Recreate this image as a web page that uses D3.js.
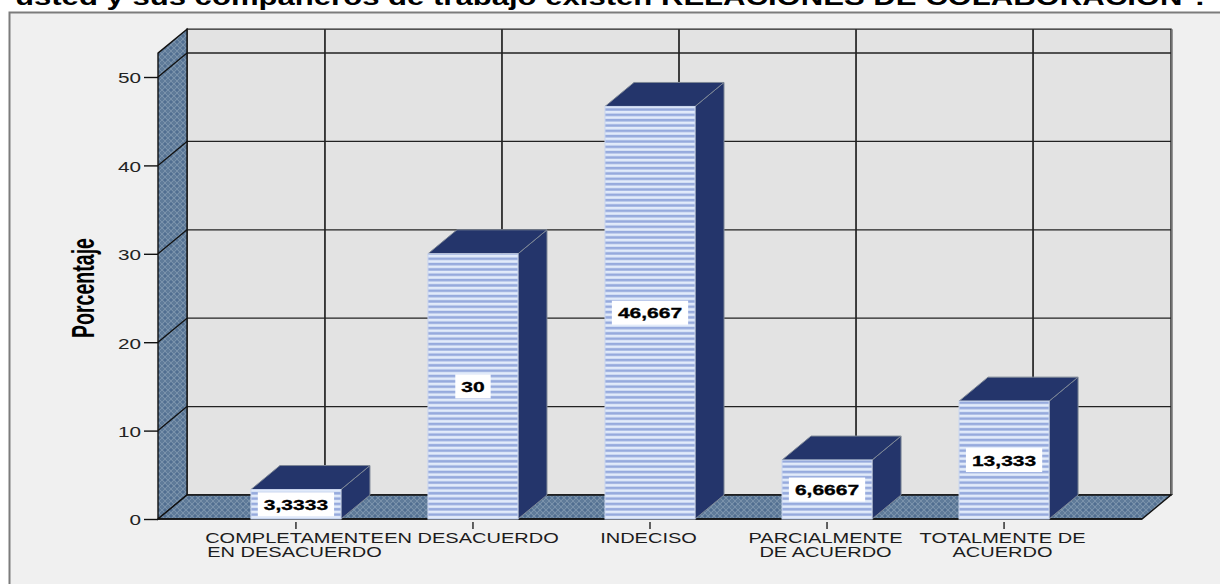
<!DOCTYPE html>
<html>
<head>
<meta charset="utf-8">
<script src="https://cdnjs.cloudflare.com/ajax/libs/d3/7.8.5/d3.min.js"></script>
<style>
  html, body { margin: 0; padding: 0; background: #fff; }
  svg { display: block; }
  text { font-family: "Liberation Sans", Arial, sans-serif; }
</style>
</head>
<body>
<svg id="chart" width="1220" height="584"></svg>
<script>
// Survey responses, percentage per answer
const categories = ["COMPLETAMENTE EN DESACUERDO", "EN DESACUERDO", "INDECISO", "PARCIALMENTE DE ACUERDO", "TOTALMENTE DE ACUERDO"];
const categoryLines = [["COMPLETAMENTE", "EN DESACUERDO"], ["EN DESACUERDO"], ["INDECISO"], ["PARCIALMENTE", "DE ACUERDO"], ["TOTALMENTE DE", "ACUERDO"]];
const percentages = [3.3333, 30, 46.667, 6.6667, 13.333];
const valueLabels = ["3,3333", "30", "46,667", "6,6667", "13,333"];
const yTicks = [0, 10, 20, 30, 40, 50];
const wallTopValue = 52.7;
const titleText = "usted y sus compañeros de trabajo existen RELACIONES DE COLABORACIÓN ?";
const yAxisTitle = "Porcentaje";

// Oblique projection of the box: back plane is shifted by this offset
const depthX = 29, depthY = -24;
const tickStretch = 1.48;
const categoryStretch = 1.43;

const svg = d3.select("#chart");
const x = d3.scaleBand().domain(categories).range([158, 1142]).paddingInner(0.4915).paddingOuter(0.525);
const y = d3.scaleLinear().domain([0, 50]).range([519, 77]);

const defs = svg.append("defs");

// Woven texture on the side wall and the floor
const weave = defs.append("pattern").attr("id", "weave").attr("patternUnits", "userSpaceOnUse")
  .attr("width", 6).attr("height", 6);
weave.append("rect").attr("width", 6).attr("height", 6).attr("fill", "#5f7b99");
weave.append("path").attr("d", "M0 0L3 3L0 6M6 0L3 3L6 6").attr("fill", "none").attr("stroke", "#7a92ab").attr("stroke-width", 1);
weave.append("circle").attr("cx", 3).attr("cy", 0).attr("r", 1).attr("fill", "#4c6a8e");
weave.append("circle").attr("cx", 3).attr("cy", 6).attr("r", 1).attr("fill", "#4c6a8e");

// Horizontal stripes on the bar fronts
const stripes = defs.append("pattern").attr("id", "stripes").attr("patternUnits", "userSpaceOnUse")
  .attr("width", 6).attr("height", 5.33);
stripes.append("rect").attr("width", 6).attr("height", 5.33).attr("fill", "#e2ebfa");
stripes.append("rect").attr("y", 1.6).attr("width", 6).attr("height", 2.6).attr("fill", "#96aadd");

// Title, cut by the top edge of the page
svg.append("text").attr("x", 15).attr("y", 5)
  .attr("font-size", 24).attr("font-weight", "bold").attr("fill", "#000")
  .attr("textLength", 1195).attr("lengthAdjust", "spacingAndGlyphs")
  .text(titleText);

// Chart panel, open towards the right and bottom edges of the page
svg.append("rect").attr("x", 9.5).attr("y", 12.5).attr("width", 1230).attr("height", 600)
  .attr("fill", "#f0f0f0").attr("stroke", "#7c7c7c").attr("stroke-width", 2);

const x0 = x.range()[0], x1 = x.range()[1];
const yBase = y(0), yTop = y(wallTopValue);
const poly = pts => "M" + pts.map(p => p.join(",")).join("L") + "Z";

// Back wall
svg.append("path").attr("d", poly([[x0 + depthX, yTop + depthY], [x1 + depthX, yTop + depthY], [x1 + depthX, yBase + depthY], [x0 + depthX, yBase + depthY]]))
  .attr("fill", "#e3e3e3");

// Back wall gridlines, vertical
svg.append("g").selectAll("line").data(categories).join("line")
  .attr("x1", d => x(d) + x.bandwidth() / 2 + depthX).attr("x2", d => x(d) + x.bandwidth() / 2 + depthX)
  .attr("y1", yTop + depthY).attr("y2", yBase + depthY)
  .attr("stroke", "#222").attr("stroke-width", 1.7);

// Back wall gridlines, horizontal
svg.append("g").selectAll("line").data(yTicks.filter(t => t > 0)).join("line")
  .attr("x1", x0 + depthX).attr("x2", x1 + depthX)
  .attr("y1", d => y(d) + depthY).attr("y2", d => y(d) + depthY)
  .attr("stroke", "#222").attr("stroke-width", 1.3);

// Back wall outline
svg.append("path").attr("d", poly([[x0 + depthX, yTop + depthY], [x1 + depthX, yTop + depthY], [x1 + depthX, yBase + depthY], [x0 + depthX, yBase + depthY]]))
  .attr("fill", "none").attr("stroke", "#222").attr("stroke-width", 1.4);
svg.append("line").attr("x1", x1 + depthX + 1).attr("x2", x1 + depthX + 1).attr("y1", yTop + depthY).attr("y2", yBase + depthY)
  .attr("stroke", "#777").attr("stroke-width", 1.5);

// Side wall and floor
svg.append("path").attr("d", poly([[x0, yTop], [x0 + depthX, yTop + depthY], [x0 + depthX, yBase + depthY], [x0, yBase]]))
  .attr("fill", "url(#weave)").attr("stroke", "#111").attr("stroke-width", 1.4);
svg.append("path").attr("d", poly([[x0, yBase], [x0 + depthX, yBase + depthY], [x1 + depthX, yBase + depthY], [x1, yBase]]))
  .attr("fill", "url(#weave)").attr("stroke", "#111").attr("stroke-width", 1.4);

// Gridlines crossing the side wall
svg.append("g").selectAll("line").data(yTicks.filter(t => t > 0)).join("line")
  .attr("x1", x0).attr("x2", x0 + depthX)
  .attr("y1", d => y(d)).attr("y2", d => y(d) + depthY)
  .attr("stroke", "#111").attr("stroke-width", 1.3);

// Value axis
const yAxis = svg.append("g").attr("transform", `translate(${x0},0)`)
  .call(d3.axisLeft(y).tickValues(yTicks).tickSize(14).tickPadding(3));
yAxis.select(".domain").remove();
yAxis.selectAll(".tick line").attr("stroke", "#111").attr("stroke-width", 1.4);
yAxis.selectAll(".tick text")
  .attr("font-size", 14).attr("fill", "#222").attr("font-family", "Liberation Sans")
  .attr("transform", function () {
    const tx = -17;
    return `translate(${tx},1.5) scale(${tickStretch},1) translate(${-tx},0)`;
  });

// Category axis
const xAxis = svg.append("g").attr("transform", `translate(0,${yBase})`)
  .call(d3.axisBottom(x).tickSize(0).tickFormat(""));
xAxis.select(".domain").attr("d", `M${x0},0H${x1}`).attr("stroke", "#111").attr("stroke-width", 1.6);
xAxis.selectAll(".tick line").attr("y1", 3).attr("y2", 10).attr("stroke", "#222").attr("stroke-width", 1.4);

// Category labels, one or two lines
const catLabels = svg.append("g").selectAll("g").data(categories).join("g")
  .attr("transform", d => `translate(${x(d) + x.bandwidth() / 2 - 1.5},0) scale(${categoryStretch},1)`);
catLabels.selectAll("text").data((d, i) => categoryLines[i]).join("text")
  .attr("y", (d, i) => 543 + i * 14.5)
  .attr("text-anchor", "middle").attr("font-size", 14).attr("fill", "#1c1c1c")
  .text(d => d);

// Value axis title
svg.append("g").attr("transform", "translate(94,288) scale(1.6,1) rotate(-90)")
  .append("text").attr("text-anchor", "middle")
  .attr("font-size", 20).attr("font-weight", "bold").attr("fill", "#000")
  .attr("textLength", 100).attr("lengthAdjust", "spacingAndGlyphs")
  .text(yAxisTitle);

// Bars: side, top, front, value label
const bars = svg.append("g").selectAll("g").data(categories).join("g");
const barGeom = (d, i) => ({ l: x(d), r: x(d) + x.bandwidth(), t: y(percentages[i]), b: yBase });

bars.append("path")
  .attr("d", (d, i) => { const g = barGeom(d, i); return poly([[g.r, g.t], [g.r + depthX, g.t + depthY], [g.r + depthX, g.b + depthY], [g.r, g.b]]); })
  .attr("fill", "#24356b").attr("stroke", "#7d8796").attr("stroke-width", 1);
bars.append("path")
  .attr("d", (d, i) => { const g = barGeom(d, i); return poly([[g.l, g.t], [g.l + depthX, g.t + depthY], [g.r + depthX, g.t + depthY], [g.r, g.t]]); })
  .attr("fill", "#24356b").attr("stroke", "#7d8796").attr("stroke-width", 1);
bars.append("rect")
  .attr("x", (d, i) => barGeom(d, i).l).attr("y", (d, i) => barGeom(d, i).t)
  .attr("width", x.bandwidth()).attr("height", (d, i) => yBase - barGeom(d, i).t)
  .attr("fill", "url(#stripes)").attr("stroke", "#c9d5ee").attr("stroke-width", 1);

// Value labels sit on a white box at mid-height of the bar
const labelStretch = 1.45;
bars.each(function (d, i) {
  const g = barGeom(d, i);
  const cx = (g.l + g.r) / 2, cy = (g.t + g.b) / 2;
  const group = d3.select(this);
  const box = group.append("rect").attr("fill", "#fff");
  const label = group.append("text")
    .attr("transform", `translate(${cx},${cy + 5.5}) scale(${labelStretch},1)`)
    .attr("text-anchor", "middle").attr("font-size", 14.5).attr("font-weight", "bold").attr("fill", "#000")
    .attr("stroke", "#000").attr("stroke-width", 0.3)
    .text(valueLabels[i]);
  const w = label.node().getComputedTextLength() * labelStretch + 12;
  box.attr("x", cx - w / 2).attr("y", cy - 12).attr("width", w).attr("height", 24);
});
</script>
</body>
</html>
